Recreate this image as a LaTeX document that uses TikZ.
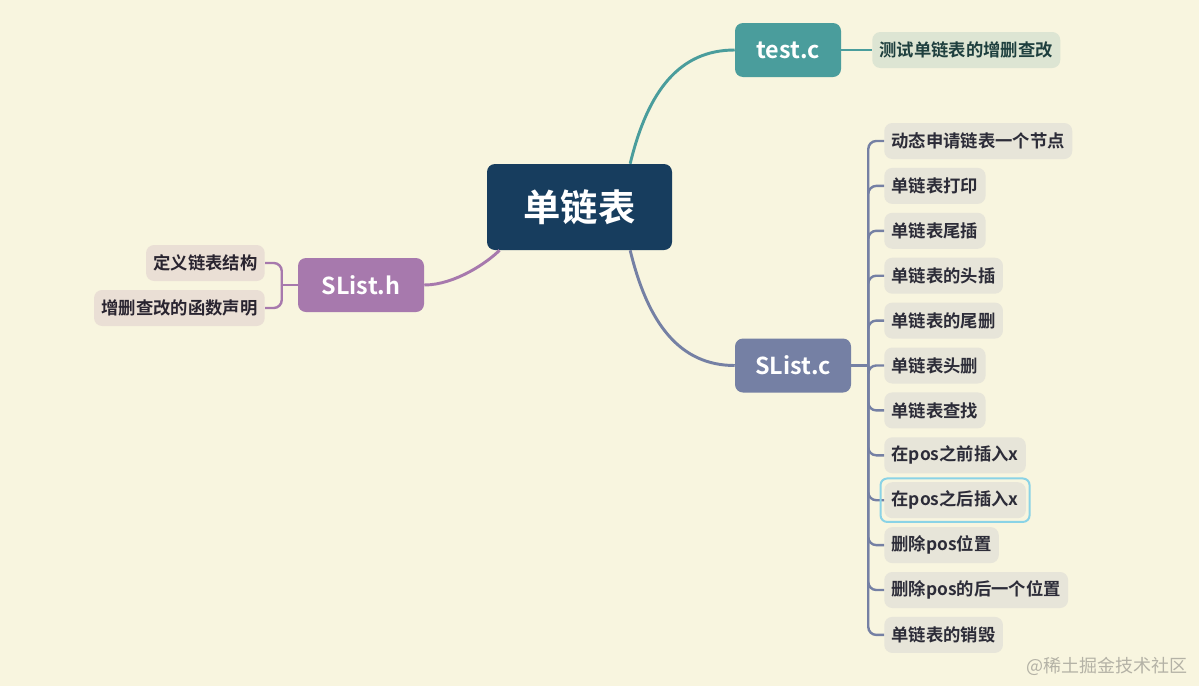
\documentclass[tikz,border=0pt]{standalone}
\usepackage{fontspec}
\setmainfont{Noto Sans CJK SC}[BoldFont={Noto Sans CJK SC Bold}]
\usepackage{xcolor}
\usepackage{tikz}
\usetikzlibrary{positioning}
\definecolor{paper}{HTML}{F8F5DF}
\definecolor{rootc}{HTML}{173D5E}
\definecolor{testc}{HTML}{4A9D9C}
\definecolor{srcc}{HTML}{7580A4}
\definecolor{hdrc}{HTML}{A779AD}
\definecolor{tleafc}{HTML}{DDE5D3}
\definecolor{sleafc}{HTML}{E7E5D9}
\definecolor{hleafc}{HTML}{EADFD5}
\definecolor{inkc}{HTML}{2C2C38}
\definecolor{selc}{HTML}{8AD3E6}
\definecolor{markc}{HTML}{B4B2A6}
\tikzset{
  hub/.style={rounded corners=6pt,text=white,inner sep=0pt,minimum height=40.5pt,
    font=\bfseries\fontsize{17.5}{20}\selectfont},
  leaf/.style={rounded corners=6pt,text=inkc,inner xsep=5.5pt,inner ysep=0pt,minimum height=27pt,
    font=\bfseries\fontsize{13}{15}\selectfont},
  link/.style={line width=2.2pt},
  twig/.style={line width=1.8pt,rounded corners=6pt}
}
\newcommand{\twig}[3]{\draw[twig,#1] (#2) |- (#3);}

\begin{document}
\begin{tikzpicture}[x=0.75pt,y=-0.75pt]
\fill[paper] (0,0) rectangle (1199,686);
\useasboundingbox (0,0) rectangle (1199,686);
% centre and main branches
\node[hub,fill=rootc,minimum width=138.75pt,minimum height=64.5pt,
  font=\bfseries\fontsize{28}{32}\selectfont] (root) at (579.5,207) {单链表};
\node[hub,fill=testc,minimum width=79.5pt] (test) at (788,50) {test.c};
\node[hub,fill=srcc,minimum width=87pt] (src) at (793,365.5) {SList.c};
\node[hub,fill=hdrc,minimum width=94.5pt] (hdr) at (361,285) {SList.h};
\draw[link,testc] ([xshift=38pt]root.north) .. controls (648,90) and (680,50) .. (test.west);
\draw[link,srcc] ([xshift=38pt]root.south) .. controls (648,324) and (680,365.5) .. (src.west);
\draw[link,hdrc] ([xshift=-60pt]root.south) .. controls (488,262) and (455,285) .. (hdr.east);
% test.c
\node[leaf,fill=tleafc,anchor=west,text=testc!40!black] (tl) at (872,50) {测试单链表的增删查改};
\draw[twig,testc] (test.east) -- (tl.west);
% SList.h
\node[leaf,fill=hleafc,anchor=east,text=inkc!80!hdrc!60!black] (h1) at (265,263) {定义链表结构};
\node[leaf,fill=hleafc,anchor=east,text=inkc!80!hdrc!60!black] (h2) at (265,308) {增删查改的函数声明};
\coordinate[left=12pt of hdr.west] (hj);
\draw[twig,hdrc] (hdr.west) -- (hj);
\foreach \i in {1,2}
  \twig{hdrc}{hj}{h\i.east}
% SList.c
\coordinate[right=12.75pt of src.east] (sj);
\draw[twig,srcc] (src.east) -- (sj);
\foreach \txt [count=\i] in {动态申请链表一个节点,单链表打印,单链表尾插,单链表的头插,
    单链表的尾删,单链表头删,单链表查找,在pos之前插入x,在pos之后插入x,
    删除pos位置,删除pos的后一个位置,单链表的销毁}{
  \node[leaf,fill=sleafc,anchor=west] (c\i) at (884,{141+44.9*(\i-1)}) {\txt};
  \twig{srcc}{sj}{c\i.west}
}
\draw[selc,line width=1.5pt,rounded corners=5pt]
  ([shift={(-2.6pt,-2.6pt)}]c9.south west) rectangle ([shift={(2.6pt,2.6pt)}]c9.north east);
\node[text=markc,font=\fontsize{13.5}{16}\selectfont,anchor=east] (mark) at (1192,666) {@稀土掘金技术社区};
\end{tikzpicture}
\end{document}
